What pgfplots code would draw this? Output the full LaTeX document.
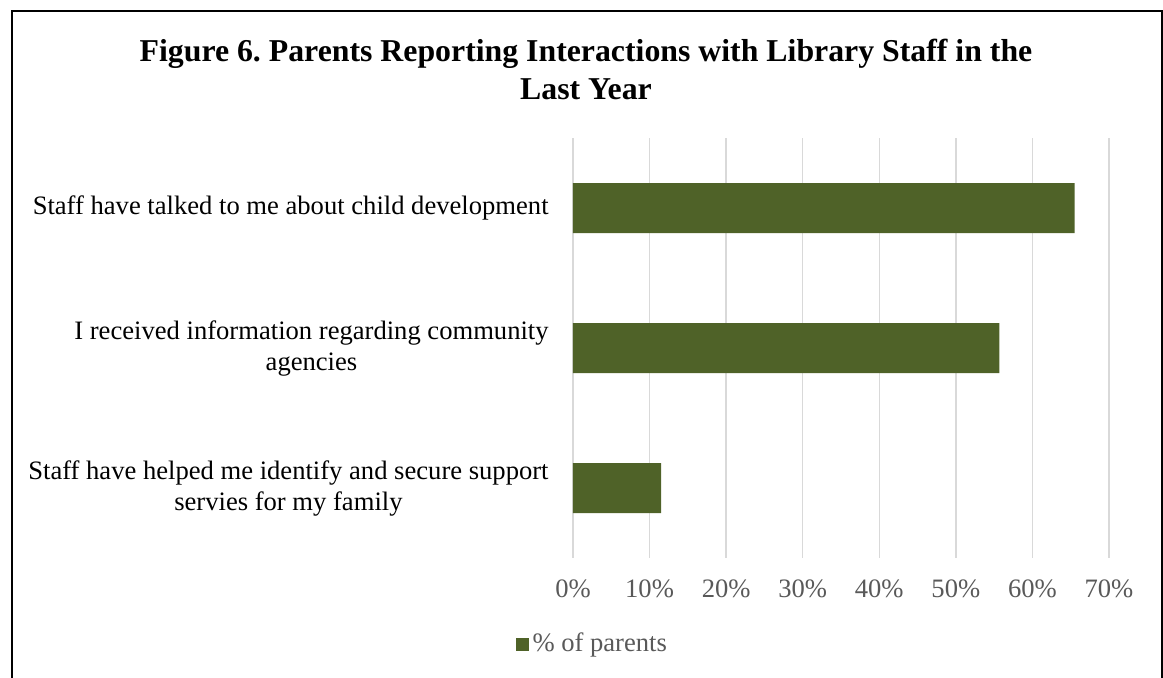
\documentclass[border=0pt]{standalone}
\usepackage{fontspec}
\setmainfont{Liberation Serif}
\usepackage{pgfplots}
\pgfplotsset{compat=1.18}
\definecolor{barc}{RGB}{79,98,40}
\definecolor{tickc}{RGB}{89,89,89}
\definecolor{gridc}{RGB}{217,217,217}
\frenchspacing
\begin{document}
\begin{tikzpicture}
\path[use as bounding box] (0,0) rectangle (581.5pt,338.5pt);
\draw[line width=1pt] (5.75pt,-1pt) -- (5.75pt,333.25pt) -- (580.75pt,333.25pt) -- (580.75pt,-1pt);
\node[align=center, font=\bfseries\fontsize{15.9}{19}\selectfont] at (293pt,304pt)
  {Figure 6. Parents Reporting Interactions with Library Staff in the\\Last Year};
\begin{axis}[
  at={(286.5pt,59.5pt)}, anchor=south west,
  scale only axis, width=268pt, height=210pt,
  xbar, bar width=25pt,
  xmin=0, xmax=70, ymin=-0.5, ymax=2.5,
  y dir=reverse,
  xtick={0,10,...,70},
  xticklabel={\pgfmathprintnumber{\tick}\%},
  /pgf/number format/assume math mode=true,
  ytick={0,1,2},
  yticklabels={Staff have talked to me about child development,
    {I received information regarding community\\agencies},
    {Staff have helped me identify and secure support\\servies for my family}},
  yticklabel style={align=center, font=\fontsize{13.3}{15.5}\selectfont, inner sep=0pt, xshift=-12pt},
  xticklabel style={font=\fontsize{13.3}{15}\selectfont, text=tickc, inner sep=0pt, yshift=-10.5pt},
  major tick length=0pt,
  axis line style={draw=none},
  xmajorgrids, major grid style={draw=gridc, line width=0.75pt},
  legend style={at={(-0.108,-0.205)}, anchor=west, draw=none, inner sep=0pt,
    font=\fontsize{13.3}{15}\selectfont, text=tickc},
  legend image code/.code={\fill[barc] (0pt,-3.2pt) rectangle (6.5pt,3.2pt);},
]
\addplot[fill=barc, draw=none] coordinates {(65.5,0) (55.7,1) (11.5,2)};
\addlegendentry{\% of parents}
\end{axis}
\end{tikzpicture}
\end{document}
